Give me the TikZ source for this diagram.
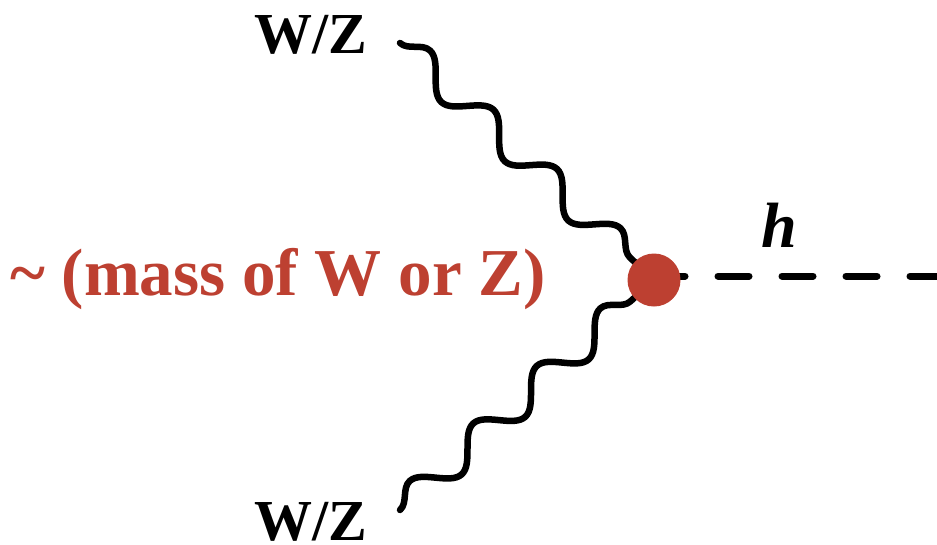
\documentclass[tikz,border=0pt]{standalone}
\usepackage{fontspec}
\setmainfont{Liberation Serif}
\usetikzlibrary{decorations.pathmorphing}
\definecolor{massred}{RGB}{189,64,49}
\begin{document}
\begin{tikzpicture}[x=1pt,y=-1pt,
  wave/.style={decorate, decoration={snake, segment length=#1, amplitude=15pt}, line width=6.5pt, line cap=round, black},
  higgs/.style={line width=7pt, line cap=round, dash pattern=on 31pt off 33pt, black},
  vtx/.style={circle, fill=massred, minimum size=53pt, inner sep=0pt},
  lbl/.style={inner sep=0pt, font=\fontsize{58}{60}\selectfont\bfseries}]
\useasboundingbox (0,0) rectangle (937,544);
\coordinate (vc) at (654,280);
\coordinate (wt) at (400,43);
\coordinate (wb) at (400,510);
\coordinate (hs) at (654,276);
\coordinate (he) at (937,276);
\draw[wave=86.8pt] (wt) -- (vc);
\draw[wave=85.7pt] (wb) -- (vc);
\draw[higgs] (hs) -- (he);
\node[vtx] (v) at (vc) {};
\node[lbl, anchor=base west] (lt) at (254,53) {W/Z};
\node[lbl, anchor=base west] (lb) at (254,540) {W/Z};
\node[inner sep=0pt, anchor=base west, font=\fontsize{64}{66}\selectfont\bfseries\itshape] (h) at (761,247) {h};
\node[inner sep=0pt, anchor=base west, text=massred, font=\fontsize{67}{69}\selectfont\bfseries] (m) at (10,295) {\char`\~{} (mass of W or Z)};
\end{tikzpicture}
\end{document}
